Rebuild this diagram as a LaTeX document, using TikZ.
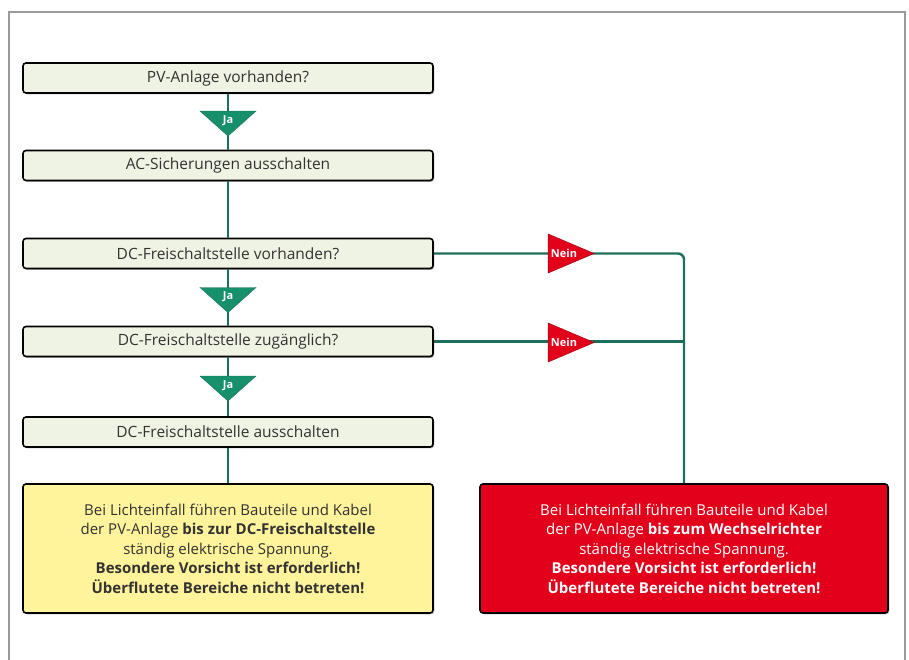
\documentclass[tikz,border=0pt]{standalone}
\usepackage{fontspec}
\setmainfont{Open Sans}
\usetikzlibrary{shapes.geometric,shadows}
\definecolor{flowgreen}{HTML}{1D6F5D}
\definecolor{trigreen}{HTML}{16906A}
\definecolor{askfill}{HTML}{EFF3E3}
\definecolor{warnyellow}{HTML}{FFF39B}
\definecolor{warnred}{HTML}{E2001A}
\definecolor{framegray}{HTML}{9A9A9A}
\tikzset{
	askbox/.style={draw=black, line width=1.6pt, rounded corners=3pt, fill=askfill,
		minimum width=410pt, minimum height=30pt, inner sep=0pt, text=black!80,
		font=\fontsize{15.5}{18}\selectfont,
		drop shadow={shadow xshift=1.3pt, shadow yshift=-1.3pt, fill=black!50}},
	warnbox/.style={askbox, minimum height=129pt, align=center,
		font=\fontsize{15}{19.5}\selectfont},
	flow/.style={draw=flowgreen, line width=2.4pt},
	jatri/.style={isosceles triangle, isosceles triangle stretches, shape border rotate=-90,
		fill=trigreen, draw=flowgreen, line width=0.4pt, minimum width=56pt, minimum height=25pt,
		inner sep=0pt, text=white, font=\bfseries\fontsize{11}{11}\selectfont},
	neintri/.style={isosceles triangle, isosceles triangle stretches,
		fill=warnred, draw=warnred!70!black, line width=0.4pt, minimum width=39pt, minimum height=46pt,
		inner sep=0pt, text=white, font=\bfseries\fontsize{11}{11}\selectfont}
}

\begin{document}
\begin{tikzpicture}[x=1pt, y=-1pt]
			%%%%% START %%%%%
			\useasboundingbox (0, 0) rectangle (909, 660);
			\draw[framegray, line width=1.2pt] (9, 660) -- (9, 12) -- (905, 12) -- (905, 660);
			
			% question boxes
			\node[askbox] (pvask) at (228, 78) {PV-Anlage vorhanden?};
			\node[askbox] (acoff) at (228, 165.5) {AC-Sicherungen ausschalten};
			\node[askbox] (dcask) at (228, 253.5) {DC-Freischaltstelle vorhanden?};
			\node[askbox] (dcreach) at (228, 341.5) {DC-Freischaltstelle zugänglich?};
			\node[askbox] (dcoff) at (228, 432) {DC-Freischaltstelle ausschalten};
			
			% warnings
			\node[warnbox, fill=warnyellow] (warnlow) at (228, 548.5) {Bei Lichteinfall führen Bauteile und Kabel\\
				der PV-Anlage \textbf{bis zur DC-Freischaltstelle}\\
				ständig elektrische Spannung.\\
				\textbf{Besondere Vorsicht ist erforderlich!}\\
				\textbf{Überflutete Bereiche nicht betreten!}};
			\node[warnbox, fill=warnred, text=white, minimum width=408pt] (warnhigh) at (684, 548.5) {Bei Lichteinfall führen Bauteile und Kabel\\
				der PV-Anlage \textbf{bis zum Wechselrichter}\\
				ständig elektrische Spannung.\\
				\textbf{Besondere Vorsicht ist erforderlich!}\\
				\textbf{Überflutete Bereiche nicht betreten!}};
			
			% connectors
			\draw[flow] (pvask) -- (acoff);
			\draw[flow] (acoff) -- (dcask);
			\draw[flow] (dcask) -- (dcreach);
			\draw[flow] (dcreach) -- (dcoff);
			\draw[flow] (dcoff) -- (warnlow);
			\draw[flow, rounded corners=6pt] (dcask.east) -| (warnhigh.north);
			\draw[flow] (dcreach.east) -- (dcreach.east -| warnhigh.north);
			
			% yes / no marks
			\node[jatri] (ja1) at (228, 120.5) {Ja};
			\node[jatri] (ja2) at (228, 297) {Ja};
			\node[jatri] (ja3) at (228, 385.5) {Ja};
			\node[neintri] (nein1) at (564, 253.5) {Nein};
			\node[neintri] (nein2) at (564, 342.5) {Nein};
			%%%%% END %%%%%
\end{tikzpicture}
\end{document}
